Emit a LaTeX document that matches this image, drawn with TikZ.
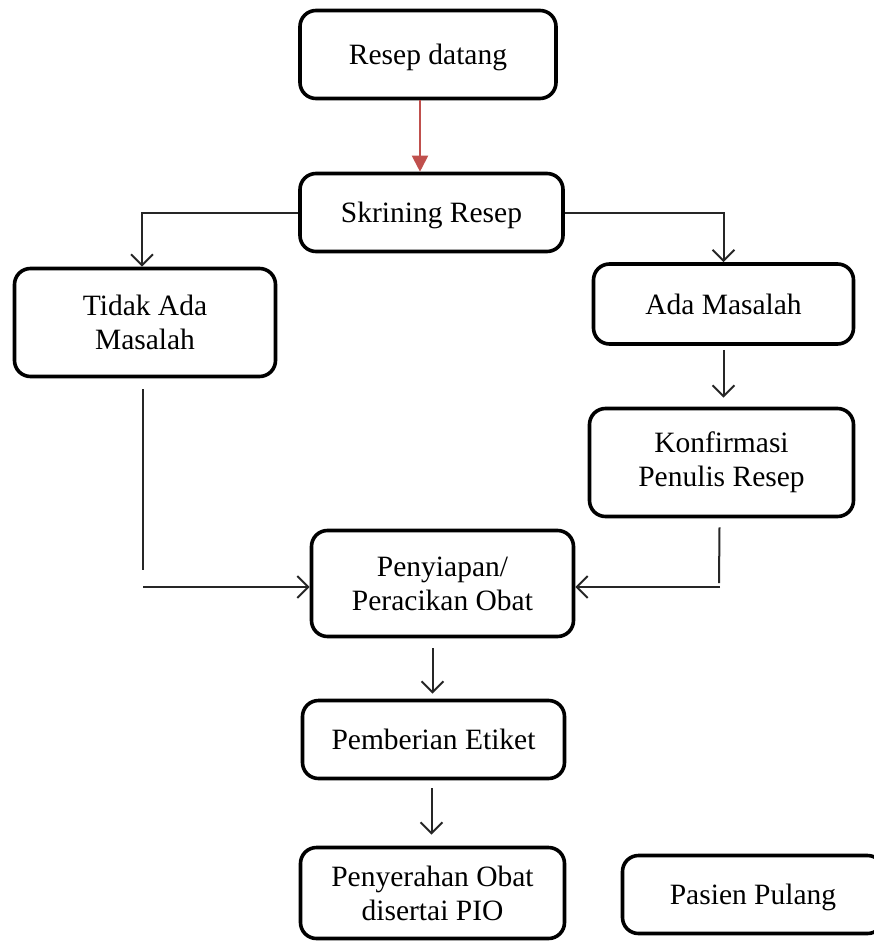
\documentclass[tikz,border=0pt]{standalone}
\usepackage{fontspec}
\setmainfont{Liberation Serif}
\usetikzlibrary{arrows.meta}
\definecolor{redarrow}{HTML}{C0504D}
\begin{document}
\begin{tikzpicture}[x=1pt,y=1pt,
  box/.style={draw=black, line width=3.6pt, rounded corners=16pt, fill=white,
    align=center, inner sep=0pt, font=\fontsize{29.5}{34}\selectfont},
  oneline/.style={text depth=0pt},
  link/.style={draw=black!85, line width=2pt},
  arr/.style={link, -{Straight Barb[length=11pt,width=22pt,line width=2pt]}},
  redarr/.style={draw=redarrow, line width=2pt, -{Triangle[length=16pt,width=16pt]}}]
\useasboundingbox (0,0) rectangle (874,-942);
\clip (0,0) rectangle (874,-942);
\fill[white] (0,0) rectangle (874,-942);

\node[box, oneline, minimum width=256pt, minimum height=88pt] (rd) at (428,-54.5) {Resep datang};
\node[box, oneline, minimum width=263pt, minimum height=78pt] (sk) at (431.5,-212.5) {Skrining Resep};
\node[box, minimum width=261pt, minimum height=108pt] (tid) at (145,-322.5) {Tidak Ada\\Masalah};
\node[box, oneline, minimum width=260pt, minimum height=80pt] (ada) at (723.5,-304) {Ada Masalah};
\node[box, minimum width=264pt, minimum height=108pt] (konf) at (721.5,-462.5) {Konfirmasi\\Penulis Resep};
\node[box, minimum width=262pt, minimum height=106pt] (pen) at (442.5,-583.5) {Penyiapan/\\Peracikan Obat};
\node[box, oneline, minimum width=262pt, minimum height=78pt] (pem) at (433.5,-739.5) {Pemberian Etiket};
\node[box, minimum width=264pt, minimum height=91pt] (ser) at (432.5,-893) {Penyerahan Obat\\disertai PIO};
\node[box, oneline, minimum width=261pt, minimum height=78pt] (pas) at (753,-894.5) {Pasien Pulang};

\coordinate (tl1) at (143,-570);
\coordinate (tl2) at (143,-587);
\coordinate (kr1) at (719,-583);
\coordinate (kr2) at (720,-587);

\draw[redarr] ([xshift=-8pt]rd.south) -- ([xshift=-8pt]rd.south |- sk.north);
\draw[arr] (sk.west) -| ([xshift=-3pt]tid.north);
\draw[arr] (sk.east) -| (ada.north);
\draw[arr, shorten <=4pt, shorten >=9pt] (ada.south) -- (ada.south |- konf.north);
\draw[link] ([xshift=-2pt,yshift=-11pt]tid.south) -- (tl1);
\draw[arr] (tl2) -- (tl2 -| pen.west);
\draw[link] ([xshift=-2pt,yshift=-9pt]konf.south) -- (kr1);
\draw[arr] (kr2) -- (kr2 -| pen.east);
\draw[arr, shorten <=10pt, shorten >=5pt] ([xshift=-10pt]pen.south) -- ([xshift=-10pt]pen.south |- pem.north);
\draw[arr, shorten <=8pt, shorten >=11pt] ([xshift=-2pt]pem.south) -- ([xshift=-2pt]pem.south |- ser.north);
\end{tikzpicture}
\end{document}
